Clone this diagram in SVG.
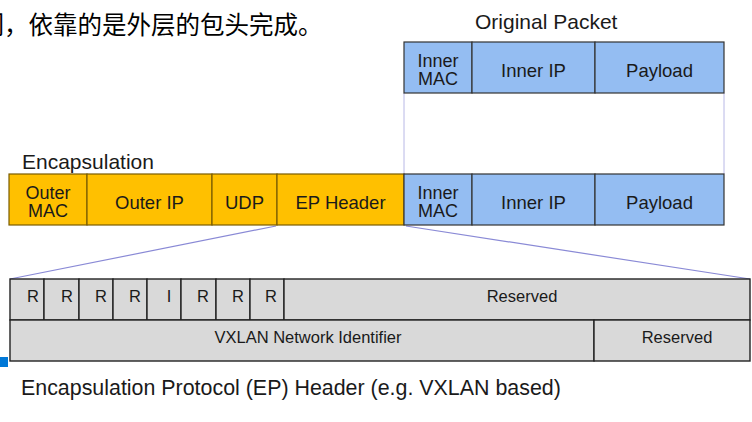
<svg xmlns="http://www.w3.org/2000/svg" width="752" height="422" viewBox="0 0 752 422">
<style>
text{font-family:"Liberation Sans",Arial,sans-serif;fill:#1a1a1a}
.t{font-size:21px}
.c{font-size:21.4px}
.b{font-size:18.5px;text-anchor:middle}
.b2{font-size:18px;text-anchor:middle}
.s{font-size:16.5px;text-anchor:middle}
.cjk{font-family:"Noto Sans CJK SC","Noto Sans CJK JP",sans-serif;font-size:24.5px;fill:#000}
.or{fill:#FFC000;stroke:#7a5c00;stroke-width:1.2}
.bl{fill:#94BDF2;stroke:#333;stroke-width:1.2}
.gr{fill:#D9D9D9;stroke:#222;stroke-width:1.4}
.cn{stroke:#8a8ad6;stroke-width:1.2;fill:none}
.cv{stroke:#b8b8e6;stroke-width:1;fill:none}
</style>
<rect width="752" height="422" fill="#fff"/>
<text class="cjk" x="-20.5" y="34">们，依靠的是外层的包头完成。</text>
<text class="t" x="475" y="29">Original Packet</text>
<text class="t" x="22" y="169">Encapsulation</text>

<g id="connectors">
<line class="cv" x1="404" y1="93" x2="404" y2="174"/>
<line class="cv" x1="724" y1="93" x2="724" y2="174"/>
<line class="cn" x1="276" y1="226" x2="10" y2="279"/>
<line class="cn" x1="406" y1="226" x2="750" y2="279"/>
</g>

<g id="orig-inner-mac"><rect class="bl" x="404" y="42" width="68" height="51"/><text class="b2" x="438" y="67">Inner<tspan x="438" dy="18">MAC</tspan></text></g>
<g id="orig-inner-ip"><rect class="bl" x="472" y="42" width="123" height="51"/><text class="b" x="533.5" y="77">Inner IP</text></g>
<g id="orig-payload"><rect class="bl" x="595" y="42" width="129" height="51"/><text class="b" x="659.5" y="77">Payload</text></g>

<g id="outer-mac"><rect class="or" x="9" y="174" width="78" height="51"/><text class="b2" x="48" y="199">Outer<tspan x="48" dy="18">MAC</tspan></text></g>
<g id="outer-ip"><rect class="or" x="87" y="174" width="125" height="51"/><text class="b" x="149.5" y="209">Outer IP</text></g>
<g id="udp"><rect class="or" x="212" y="174" width="65" height="51"/><text class="b" x="244.5" y="209">UDP</text></g>
<g id="ep-header"><rect class="or" x="277" y="174" width="127" height="51"/><text class="b" x="340.5" y="209">EP Header</text></g>
<g id="enc-inner-mac"><rect class="bl" x="404" y="174" width="68" height="51"/><text class="b2" x="438" y="199">Inner<tspan x="438" dy="18">MAC</tspan></text></g>
<g id="enc-inner-ip"><rect class="bl" x="472" y="174" width="123" height="51"/><text class="b" x="533.5" y="209">Inner IP</text></g>
<g id="enc-payload"><rect class="bl" x="595" y="174" width="129" height="51"/><text class="b" x="659.5" y="209">Payload</text></g>

<g id="ep-header-table">
<rect class="gr" x="10" y="279" width="34" height="41"/><text class="s" x="33" y="302">R</text>
<rect class="gr" x="44" y="279" width="35" height="41"/><text class="s" x="67" y="302">R</text>
<rect class="gr" x="79" y="279" width="34" height="41"/><text class="s" x="101" y="302">R</text>
<rect class="gr" x="113" y="279" width="34" height="41"/><text class="s" x="135" y="302">R</text>
<rect class="gr" x="147" y="279" width="34" height="41"/><text class="s" x="169" y="302">I</text>
<rect class="gr" x="181" y="279" width="35" height="41"/><text class="s" x="203" y="302">R</text>
<rect class="gr" x="216" y="279" width="34" height="41"/><text class="s" x="238" y="302">R</text>
<rect class="gr" x="250" y="279" width="34" height="41"/><text class="s" x="271" y="302">R</text>
<rect class="gr" x="284" y="279" width="466" height="41"/><text class="s" x="522" y="302">Reserved</text>
<rect class="gr" x="10" y="320" width="584" height="41"/><text class="s" x="308" y="343">VXLAN Network Identifier</text>
<rect class="gr" x="594" y="320" width="156" height="41"/><text class="s" x="677" y="343">Reserved</text>
</g>
<rect x="0" y="357" width="8" height="10" fill="#0078D7"/>
<text class="c" x="21" y="395">Encapsulation Protocol (EP) Header (e.g. VXLAN based)</text>
</svg>
